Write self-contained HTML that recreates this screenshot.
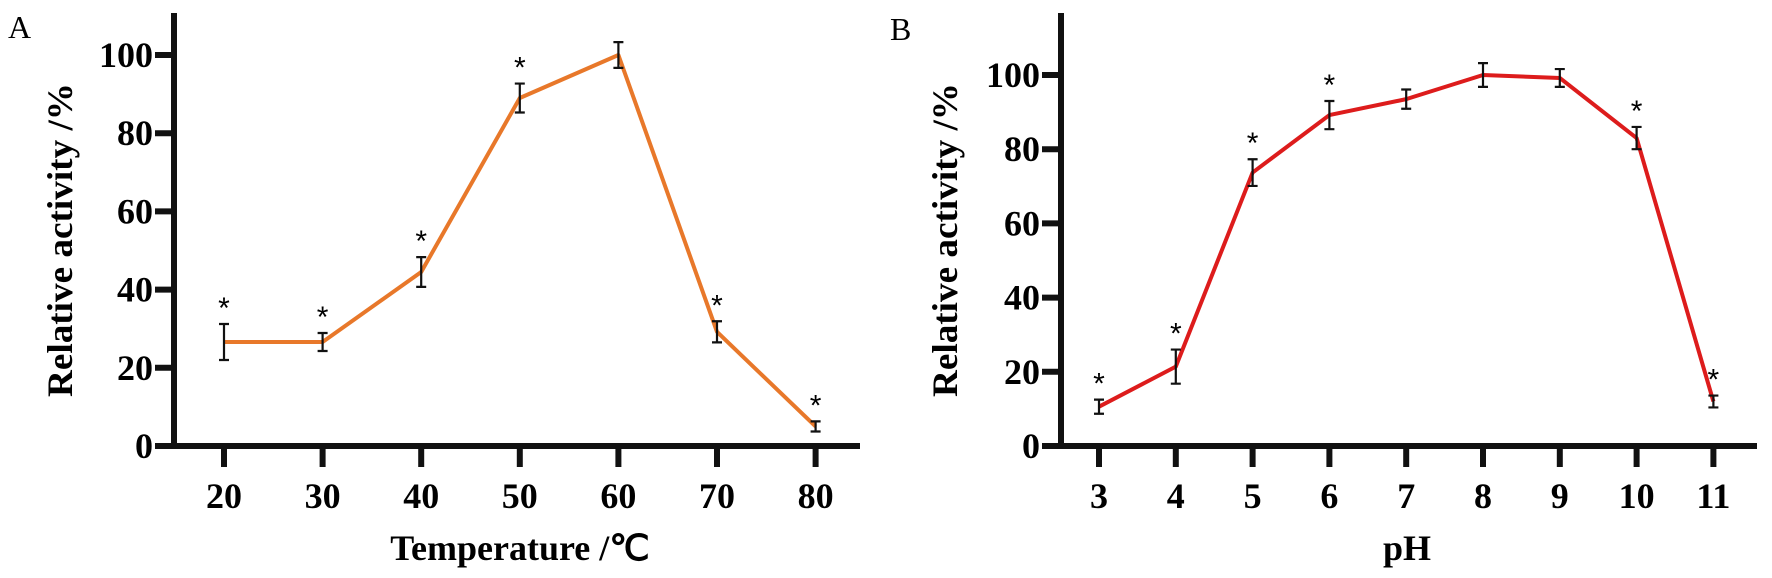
<!DOCTYPE html>
<html><head><meta charset="utf-8"><style>
html,body{margin:0;padding:0;background:#fff;}
svg{display:block;font-family:"Liberation Serif",serif;}
</style></head><body>
<svg id="chart" width="1772" height="578" viewBox="0 0 1772 578" xmlns="http://www.w3.org/2000/svg">
<text x="8" y="38" font-size="32">A</text>
<text x="890" y="40" font-size="32">B</text>
<g id="pa"></g>
<g id="pb"></g>
</svg>
<script>
const tempCats = [20, 30, 40, 50, 60, 70, 80];
const tempVals = [26.6, 26.6, 44.5, 89, 100, 29.2, 5];
const tempErr = [4.6, 2.3, 3.8, 3.7, 3.3, 2.7, 1.3];
const tempStar = [1, 1, 1, 1, 0, 1, 1];
const phCats = [3, 4, 5, 6, 7, 8, 9, 10, 11];
const phVals = [10.6, 21.4, 73.7, 89.2, 93.5, 100, 99.2, 83, 12];
const phErr = [1.9, 4.6, 3.6, 3.8, 2.6, 3.2, 2.4, 3, 1.6];
const phStar = [1, 1, 1, 1, 0, 0, 0, 1, 1];
const yTicks = [0, 20, 40, 60, 80, 100];

const NS = "http://www.w3.org/2000/svg";
function mk(parent, tag, attrs, text) {
  const e = document.createElementNS(NS, tag);
  for (const k in attrs) e.setAttribute(k, attrs[k]);
  if (text !== undefined) e.textContent = text;
  parent.appendChild(e);
  return e;
}

function panel(g, cfg) {
  const x = v => cfg.x0 + (v - cfg.cats[0]) * cfg.dx;
  const y = v => cfg.y0 - v * cfg.dy;
  // axes
  const ya = mk(g, 'line', {x1: cfg.ax, y1: 13, x2: cfg.ax, y2: cfg.y0 + 3, stroke: '#111', 'stroke-width': 6});
  
  
  const xa = mk(g, 'line', {x1: cfg.ax - 19, y1: cfg.y0, x2: cfg.xend, y2: cfg.y0, stroke: '#111', 'stroke-width': 6});
  
  
  yTicks.forEach(t => {
    if (t > 0) {
      const tk = mk(g, 'line', {x1: cfg.ax - 19, y1: y(t), x2: cfg.ax, y2: y(t), stroke: '#111', 'stroke-width': 6});
      
      
    }
    const lb = mk(g, 'text', {x: cfg.ax - 21, y: y(t) + 12, 'font-size': 36, 'font-weight': 'bold', 'text-anchor': 'end'}, String(t));
    
    
  });
  cfg.cats.forEach(c => {
    const tk = mk(g, 'line', {x1: x(c), y1: cfg.y0, x2: x(c), y2: cfg.y0 + 21, stroke: '#111', 'stroke-width': 6});
    
    
    const lb = mk(g, 'text', {x: x(c), y: cfg.y0 + 62, 'font-size': 36, 'font-weight': 'bold', 'text-anchor': 'middle'}, String(c));
    
    
  });
  // titles
  const yt = mk(g, 'text', {x: 0, y: 0, 'font-size': 36, 'font-weight': 'bold', 'text-anchor': 'middle', textLength: 314, lengthAdjust: 'spacingAndGlyphs', transform: `translate(${cfg.ytx},240) rotate(-90)`}, 'Relative activity /%');
  
  
  const xt = mk(g, 'text', {x: cfg.xtx, y: 560, 'font-size': 36, 'font-weight': 'bold', 'text-anchor': 'middle'}, cfg.xtitle);
  
  
  // line
  const pts = cfg.cats.map((c, i) => x(c) + ',' + y(cfg.vals[i])).join(' ');
  const pl = mk(g, 'polyline', {points: pts, fill: 'none', stroke: cfg.color, 'stroke-width': 4, 'stroke-linejoin': 'round'});
  
  
  cfg.cats.forEach((c, i) => {
    const cx = x(c), t = y(cfg.vals[i] + cfg.err[i]), b = y(cfg.vals[i] - cfg.err[i]);
    const eb = mk(g, 'path', {d: `M${cx},${t}V${b}M${cx - 5},${t}H${cx + 5}M${cx - 5},${b}H${cx + 5}`, stroke: '#111', 'stroke-width': 2.2, fill: 'none'});
    
    
    if (cfg.star[i]) {
      const s = mk(g, 'text', {x: cx, y: t - 6, 'font-size': 30, 'text-anchor': 'middle', 'font-family': '"Liberation Sans",sans-serif'}, '*');
      
      
    }
  });
}

panel(document.getElementById('pa'), {cats: tempCats, vals: tempVals, err: tempErr, star: tempStar,
  x0: 224, dx: 9.86, ax: 174, xend: 860, y0: 446, dy: 3.91, color: '#e8782a', ytx: 72, xtx: 520, xtitle: 'Temperature /\u2103'});
panel(document.getElementById('pb'), {cats: phCats, vals: phVals, err: phErr, star: phStar,
  x0: 1099, dx: 76.8, ax: 1061, xend: 1757, y0: 446, dy: 3.71, color: '#dd1c1c', ytx: 957, xtx: 1407, xtitle: 'pH'});
</script>
</body></html>
